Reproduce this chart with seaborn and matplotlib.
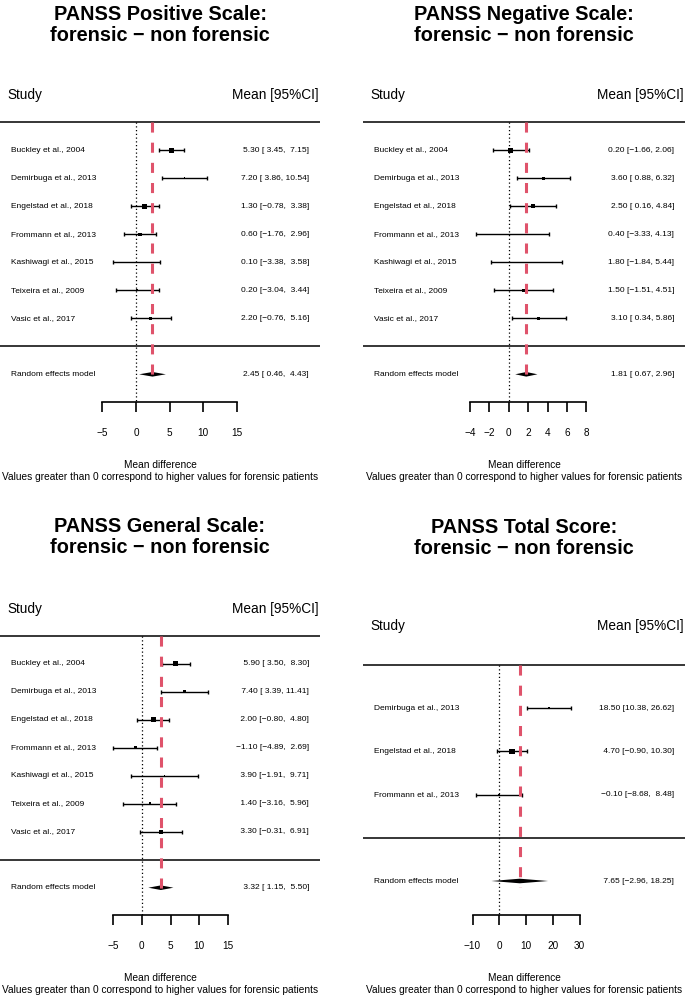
import numpy as np
import pandas as pd
import matplotlib
matplotlib.use("Agg")
import matplotlib.pyplot as plt
import matplotlib.transforms as mtransforms
import seaborn as sns

sns.set_theme(style="white")
plt.rcParams["font.family"] = ["Liberation Sans", "DejaVu Sans"]
plt.rcParams["axes.unicode_minus"] = True
plt.rcParams["text.color"] = "black"
plt.rcParams["xtick.color"] = "black"
plt.rcParams["axes.labelcolor"] = "black"

# %% Data

studies_7 = [
    "Buckley et al., 2004",
    "Demirbuga et al., 2013",
    "Engelstad et al., 2018",
    "Frommann et al., 2013",
    "Kashiwagi et al., 2015",
    "Teixeira et al., 2009",
    "Vasic et al., 2017",
]
studies_3 = [
    "Demirbuga et al., 2013",
    "Engelstad et al., 2018",
    "Frommann et al., 2013",
]

# PANSS positive
pos_mean = [5.30, 7.20, 1.30, 0.60, 0.10, 0.20, 2.20]
pos_lower = [3.45, 3.86, -0.78, -1.76, -3.38, -3.04, -0.76]
pos_upper = [7.15, 10.54, 3.38, 2.96, 3.58, 3.44, 5.16]
pos_weight = [26, 8, 23, 16, 4, 10, 13]
pos_summary = [2.45, 0.46, 4.43]
pos_ticks = [-5, 0, 5, 10, 15]

# PANSS negative
neg_mean = [0.20, 3.60, 2.50, 0.40, 1.80, 1.50, 3.10]
neg_lower = [-1.66, 0.88, 0.16, -3.33, -1.84, -1.51, 0.34]
neg_upper = [2.06, 6.32, 4.84, 4.13, 5.44, 4.51, 5.86]
neg_weight = [26, 15, 20, 5, 5, 13, 15]
neg_summary = [1.81, 0.67, 2.96]
neg_ticks = [-4, -2, 0, 2, 4, 6, 8]

# PANSS general
gen_mean = [5.90, 7.40, 2.00, -1.10, 3.90, 1.40, 3.30]
gen_lower = [3.50, 3.39, -0.80, -4.89, -1.91, -3.16, -0.31]
gen_upper = [8.30, 11.41, 4.80, 2.69, 9.71, 5.96, 6.91]
gen_weight = [22, 14, 19, 14, 4, 10, 17]
gen_summary = [3.32, 1.15, 5.50]
gen_ticks = [-5, 0, 5, 10, 15]

# PANSS total
tot_mean = [18.50, 4.70, -0.10]
tot_lower = [10.38, -0.90, -8.68]
tot_upper = [26.62, 10.30, 8.48]
tot_weight = [18, 59, 23]
tot_summary = [7.65, -2.96, 18.25]
tot_ticks = [-10, 0, 10, 20, 30]

# %% Layout (figure pixels, measured on the reference)

W, H = 685, 997
RED = "#DF536B"
XLAB = "Mean difference\nValues greater than 0 correspond to higher values for forensic patients"

layouts = {
    "pos": dict(x0=0, x1=320, top=0, bottom=498.5, zero=136.0, ppu=6.733,
                header=122.3, row=28.0, axis=402, title=25),
    "neg": dict(x0=363, x1=685, top=0, bottom=498.5, zero=508.7, ppu=9.72,
                header=122.3, row=28.0, axis=402, title=25),
    "gen": dict(x0=0, x1=320, top=498.5, bottom=997, zero=141.7, ppu=5.767,
                header=635.7, row=28.0, axis=915, title=537),
    "tot": dict(x0=363, x1=685, top=498.5, bottom=997, zero=499.3, ppu=2.675,
                header=665.0, row=43.2, axis=915, title=538),
}


def fmt_col(values):
    txt = [f"{v:.2f}".replace("-", "\u2212") for v in values]
    width = max(len(t) for t in txt)
    return [t.rjust(width) for t in txt]


def forest(fig, lay, title, names, mean, lower, upper, weight, summary, ticks):
    ax = fig.add_axes([lay["x0"] / W, 1 - lay["bottom"] / H,
                       (lay["x1"] - lay["x0"]) / W, (lay["bottom"] - lay["top"]) / H])

    def row_of(px):
        return (px - lay["header"]) / lay["row"]

    k = len(names)
    df = pd.DataFrame({
        "study": names, "mean": mean, "lower": lower, "upper": upper,
        "weight": weight, "row": np.arange(1, k + 1),
    })
    sum_row = k + 2
    axis_row = row_of(lay["axis"])

    # squares sized by weight, whiskers with small caps
    max_side = 5.3 * 0.72
    size_map = {w: (max_side * w / max(weight)) ** 2 for w in weight}
    ax.errorbar(df["mean"], df["row"],
                xerr=[df["mean"] - df["lower"], df["upper"] - df["mean"]],
                fmt="none", ecolor="black", elinewidth=1.0, capsize=1.5, capthick=1.0, zorder=3)
    sns.scatterplot(data=df, x="mean", y="row", size="weight", sizes=size_map,
                    marker="s", color="black", linewidth=0, legend=False, ax=ax, zorder=4)

    # summary diamond
    est, lo, hi = summary
    h = 2.3 / lay["row"]
    ax.fill([lo, est, hi, est], [sum_row, sum_row - h, sum_row, sum_row + h],
            color="black", lw=0, zorder=4)

    # reference lines
    ax.axhline(0, color="black", lw=1.1)
    ax.axhline(k + 1, color="black", lw=1.1)
    ax.plot([0, 0], [0, axis_row], color="black", lw=0.9, ls=(0, (1, 2)), zorder=2)
    ax.plot([est, est], [0, sum_row + 0.15], color=RED, lw=2.2, ls=(0, (3.3, 3.3)), zorder=6)

    # text columns
    tr = mtransforms.blended_transform_factory(ax.transAxes, ax.transData)
    ax.text(0.024, -0.82, "Study", transform=tr, ha="left", va="baseline", fontsize=9.8)
    ax.text(0.997, -0.82, "Mean [95%CI]", transform=tr, ha="right", va="baseline", fontsize=9.8)

    m_txt = fmt_col(list(mean) + [est])
    l_txt = fmt_col(list(lower) + [lo])
    u_txt = fmt_col(list(upper) + [hi])
    labels = list(names) + ["Random effects model"]
    rows = list(df["row"]) + [sum_row]
    for lab, r, m, l, u in zip(labels, rows, m_txt, l_txt, u_txt):
        ax.text(0.035, r, lab, transform=tr, ha="left", va="center", fontsize=6)
        ax.text(0.966, r, f"{m} [{l}, {u}]", transform=tr, ha="right", va="center", fontsize=6)

    ax.text(0.5, row_of(lay["title"]), title, transform=tr, ha="center", va="center",
            fontsize=14.3, fontweight="bold", linespacing=1.1)

    # x axis
    ax.set_xlim((lay["x0"] - lay["zero"]) / lay["ppu"], (lay["x1"] - lay["zero"]) / lay["ppu"])
    ax.set_ylim(row_of(lay["bottom"]), row_of(lay["top"]))
    for s in ["top", "left", "right"]:
        ax.spines[s].set_visible(False)
    ax.spines["bottom"].set_position(("data", axis_row))
    ax.spines["bottom"].set_bounds(ticks[0], ticks[-1])
    ax.spines["bottom"].set_color("black")
    ax.spines["bottom"].set_linewidth(1.2)
    ax.set_xticks(ticks)
    ax.set_yticks([])
    ax.tick_params(axis="x", direction="out", length=7, width=1.2, pad=12,
                   labelsize=7.2, colors="black", bottom=True)
    ax.set_xlabel("")
    ax.set_ylabel("")
    ax.patch.set_alpha(0)

    ax.annotate(XLAB, xy=(0.5, axis_row), xycoords=("axes fraction", "data"),
                xytext=(0, -42), textcoords="offset points", ha="center", va="top",
                fontsize=7.3, linespacing=1.15)
    return ax


fig = plt.figure(figsize=(W / 100, H / 100), dpi=100)

forest(fig, layouts["pos"], "PANSS Positive Scale:\nforensic \u2212 non forensic",
       studies_7, pos_mean, pos_lower, pos_upper, pos_weight, pos_summary, pos_ticks)
forest(fig, layouts["neg"], "PANSS Negative Scale:\nforensic \u2212 non forensic",
       studies_7, neg_mean, neg_lower, neg_upper, neg_weight, neg_summary, neg_ticks)
forest(fig, layouts["gen"], "PANSS General Scale:\nforensic \u2212 non forensic",
       studies_7, gen_mean, gen_lower, gen_upper, gen_weight, gen_summary, gen_ticks)
forest(fig, layouts["tot"], "PANSS Total Score:\nforensic \u2212 non forensic",
       studies_3, tot_mean, tot_lower, tot_upper, tot_weight, tot_summary, tot_ticks)

fig.savefig("out.png", dpi=100, facecolor="white")
